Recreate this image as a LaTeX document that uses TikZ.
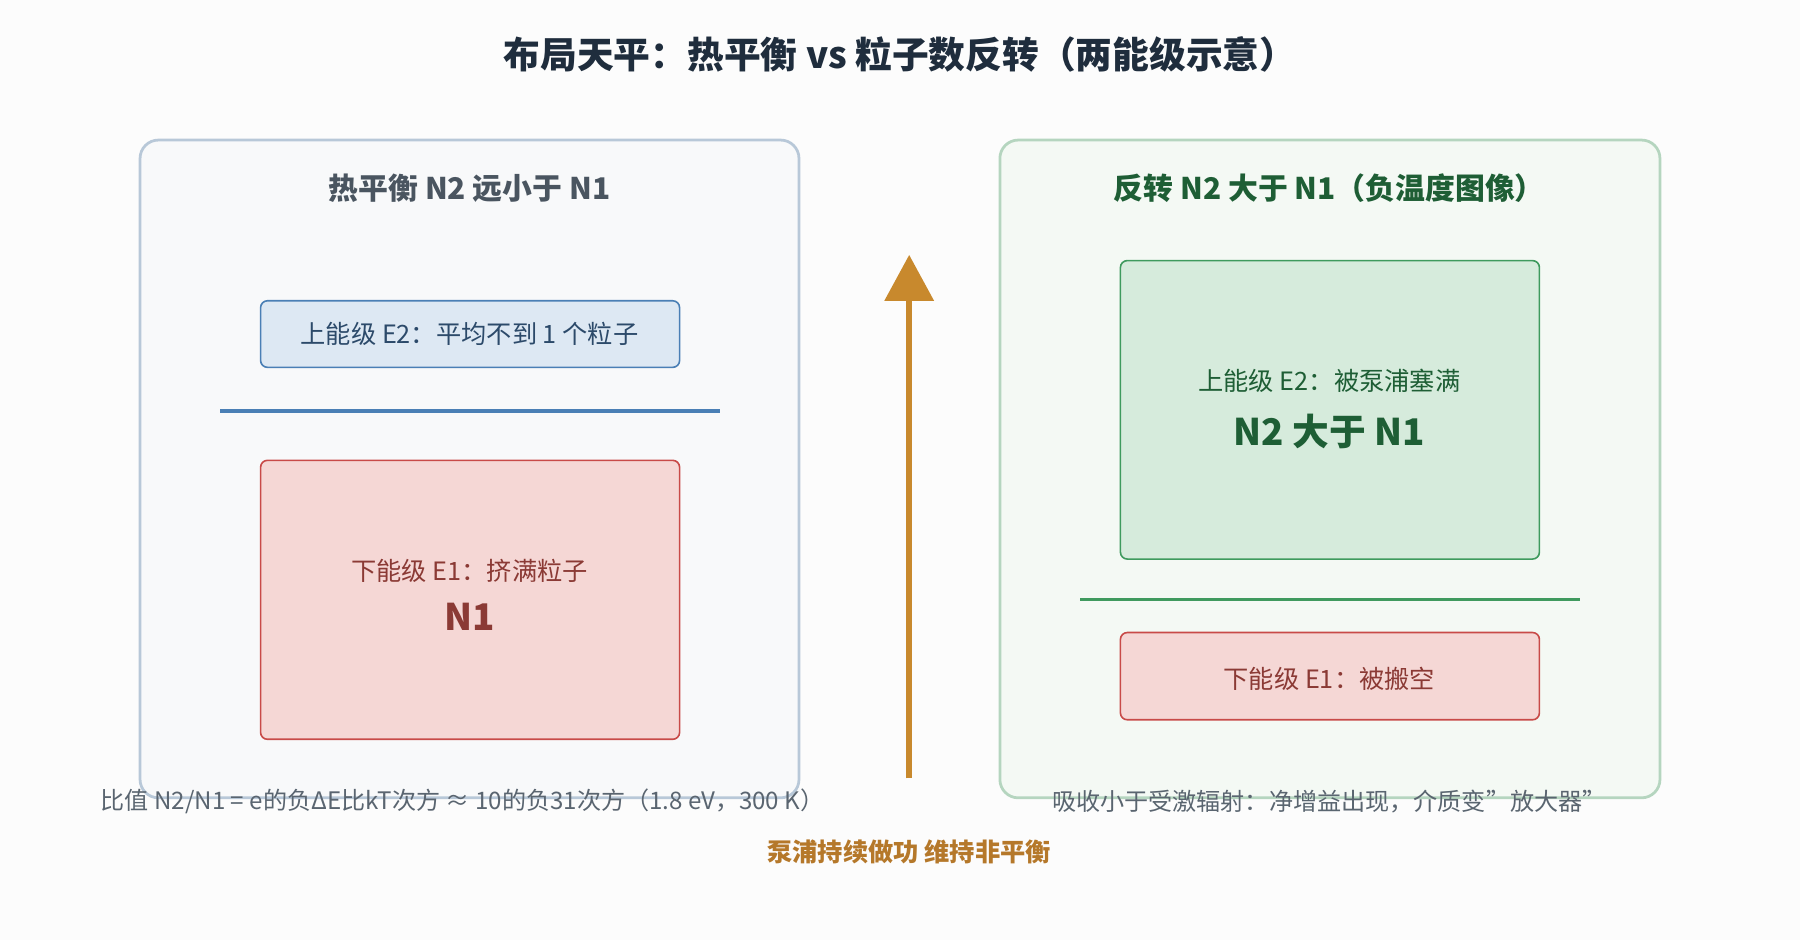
\documentclass[tikz,border=0pt]{standalone}
\usepackage{fontspec}
\setmainfont{Noto Sans CJK SC}
\usetikzlibrary{arrows.meta}
\definecolor{ttl}{HTML}{1F2D3D}
\definecolor{lpf}{HTML}{F8F9FA}\definecolor{lps}{HTML}{B8C8D8}
\definecolor{rpf}{HTML}{F4F9F4}\definecolor{rps}{HTML}{B5D5BF}
\definecolor{bluf}{HTML}{DDE8F3}\definecolor{blus}{HTML}{4A7FB5}\definecolor{blut}{HTML}{2C4A6A}
\definecolor{redf}{HTML}{F5D7D5}\definecolor{reds}{HTML}{C84A48}\definecolor{redt}{HTML}{8B3A35}
\definecolor{grnf}{HTML}{D6EBDC}\definecolor{grns}{HTML}{3F9A5E}\definecolor{grnt}{HTML}{1E5E35}
\definecolor{gryt}{HTML}{4A5560}\definecolor{note}{HTML}{5A6570}\definecolor{pump}{HTML}{C8892D}\definecolor{pumpt}{HTML}{B5782A}
\begin{document}
\begin{tikzpicture}[x=0.5pt,y=-0.5pt,
  panel/.style={rounded corners=8pt,line width=1.2pt},
  box/.style={rounded corners=3pt,line width=0.7pt},
  txt/.style={font=\fontsize{11}{13}\selectfont},
  big/.style={font=\fontsize{16}{19}\selectfont\bfseries},
  head/.style={font=\fontsize{13}{15}\selectfont\bfseries}]
\fill[white!98!gray] (0,0) rectangle (1568,819);
\useasboundingbox (0,0) rectangle (1568,819);
\node[font=\fontsize{16}{19}\selectfont\bfseries,text=ttl] (title) at (784,47) {布局天平：热平衡 vs 粒子数反转（两能级示意）};
% left
\draw[panel,fill=lpf,draw=lps] (122,122) rectangle (696,695);
\node[head,text=gryt] (lh) at (409,164) {热平衡 N2 远小于 N1};
\draw[box,fill=bluf,draw=blus] (227,262) rectangle (592,320);
\node[txt,text=blut] (le2) at (409,291) {上能级 E2：平均不到 1 个粒子};
\draw[blus,line width=1.5pt] (192,358) -- (627,358);
\draw[box,fill=redf,draw=reds] (227,401) rectangle (592,644);
\node[txt,text=redt] (le1) at (409,497) {下能级 E1：挤满粒子};
\node[big,text=redt] (ln1) at (409,537) {N1};
% arrow
\coordinate (a0) at (792,678); \coordinate (a1) at (792,222);
\draw[pump,line width=2.5pt,-{Triangle[width=21pt,length=20pt]}] (a0) -- (a1);
% right
\draw[panel,fill=rpf,draw=rps] (871,122) rectangle (1446,695);
\node[head,text=grnt] (rh) at (1158,164) {反转 N2 大于 N1（负温度图像）};
\draw[box,fill=grnf,draw=grns] (976,227) rectangle (1341,487);
\node[txt,text=grnt] (re2) at (1158,332) {上能级 E2：被泵浦塞满};
\node[big,text=grnt] (rn2) at (1158,376) {N2 大于 N1};
\draw[grns,line width=1.5pt] (941,522) -- (1376,522);
\draw[box,fill=redf,draw=reds] (976,551) rectangle (1341,627);
\node[txt,text=redt] (re1) at (1158,591) {下能级 E1：被搬空};
% notes
\node[font=\fontsize{10.5}{12}\selectfont,text=note] (ln) at (403,698) {比值 N2/N1 = e的负ΔE比kT次方 ≈ 10的负31次方（1.8 eV，300 K）};
\node[font=\fontsize{10.5}{12}\selectfont,text=note] (rn) at (1158,698) {吸收小于受激辐射：净增益出现，介质变"放大器"};
\node[font=\fontsize{11}{13}\selectfont\bfseries,text=pumpt] (pt) at (792,742) {泵浦持续做功 维持非平衡};
\end{tikzpicture}
\end{document}
